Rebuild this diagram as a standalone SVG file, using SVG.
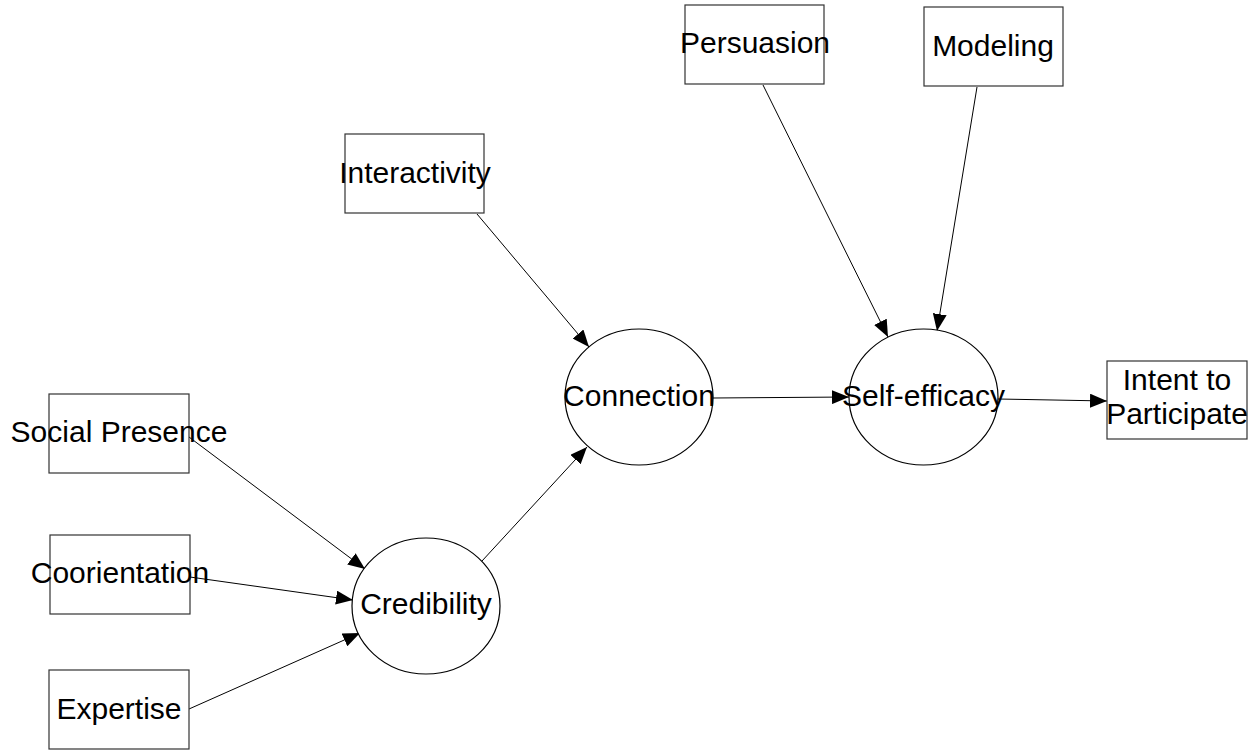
<svg xmlns="http://www.w3.org/2000/svg" width="1259" height="750" viewBox="0 0 1259 750">
<style>
.box{fill:#fff;stroke:#333;stroke-width:1.2}
.ell{fill:#fff;stroke:#000;stroke-width:1.2}
.t{font-family:"Liberation Sans",Arial,sans-serif;font-size:30px;fill:#000;text-anchor:middle}
.c{stroke:#000;stroke-width:1;fill:none;marker-end:url(#ah)}
</style>
<defs>
<marker id="ah" markerUnits="userSpaceOnUse" markerWidth="17" markerHeight="14" refX="17" refY="7" orient="auto">
<path d="M0,0 L17,7 L0,14 Z" fill="#000"/>
</marker>
</defs>
<rect width="1259" height="750" fill="#fff"/>
<g id="connectors">
<line class="c" x1="189" y1="437" x2="365" y2="569"/>
<line class="c" x1="190" y1="577" x2="353" y2="600"/>
<line class="c" x1="189" y1="709" x2="360" y2="633"/>
<line class="c" x1="482" y1="561" x2="587" y2="447"/>
<line class="c" x1="477" y1="214" x2="589" y2="347"/>
<line class="c" x1="713" y1="398" x2="849" y2="397"/>
<line class="c" x1="763" y1="85" x2="888" y2="337"/>
<line class="c" x1="977" y1="87" x2="937" y2="331"/>
<line class="c" x1="998" y1="399" x2="1107" y2="401"/>
</g>
<g id="persuasion"><rect class="box" x="685" y="5" width="139" height="79"/><text class="t" x="755" y="53">Persuasion</text></g>
<g id="modeling"><rect class="box" x="924" y="7" width="139" height="79"/><text class="t" x="993" y="56">Modeling</text></g>
<g id="interactivity"><rect class="box" x="345" y="134" width="139" height="79"/><text class="t" x="415" y="183">Interactivity</text></g>
<g id="social-presence"><rect class="box" x="49" y="394" width="140" height="79"/><text class="t" x="119" y="442">Social Presence</text></g>
<g id="coorientation"><rect class="box" x="50" y="535" width="140" height="79"/><text class="t" x="120" y="583">Coorientation</text></g>
<g id="expertise"><rect class="box" x="49" y="670" width="140" height="79"/><text class="t" x="119" y="719">Expertise</text></g>
<g id="intent"><rect class="box" x="1107" y="361" width="140" height="78"/><text class="t" x="1177" y="390">Intent to</text><text class="t" x="1177" y="424">Participate</text></g>
<g id="credibility"><ellipse class="ell" cx="426" cy="606" rx="74" ry="68"/><text class="t" x="426" y="614">Credibility</text></g>
<g id="connection"><ellipse class="ell" cx="639" cy="397" rx="74" ry="68"/><text class="t" x="639" y="406">Connection</text></g>
<g id="self-efficacy"><ellipse class="ell" cx="923.5" cy="397" rx="74.5" ry="68"/><text class="t" x="923.5" y="406">Self-efficacy</text></g>
</svg>
